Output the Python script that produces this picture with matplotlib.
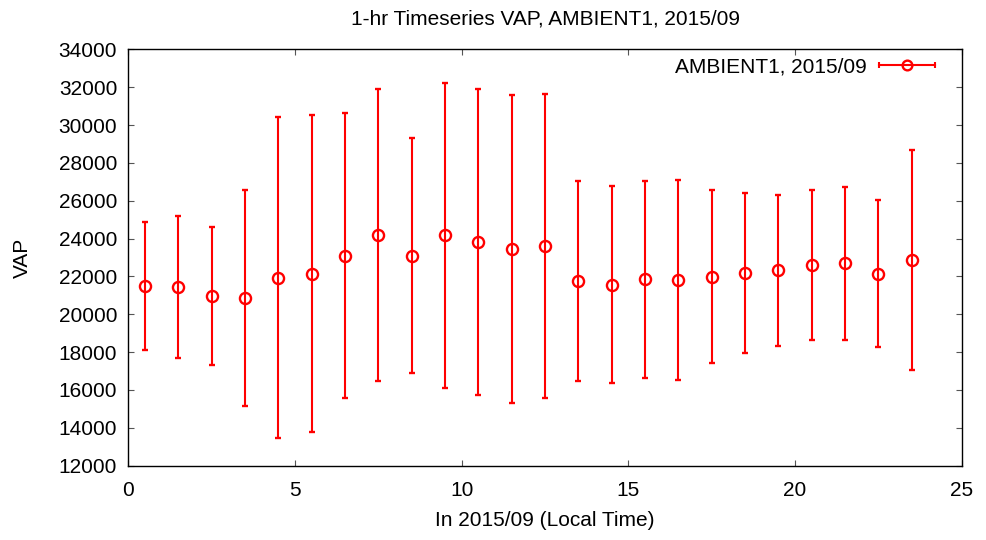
import matplotlib
matplotlib.use("Agg")
import matplotlib.pyplot as plt
from matplotlib.lines import Line2D
from matplotlib.legend_handler import HandlerLine2D

plt.rcParams['font.family'] = ['Liberation Sans', 'DejaVu Sans']

# hourly means of VAP with their min / max whiskers
hours = [0.5, 1.5, 2.5, 3.5, 4.5, 5.5, 6.5, 7.5, 8.5, 9.5, 10.5, 11.5,
         12.5, 13.5, 14.5, 15.5, 16.5, 17.5, 18.5, 19.5, 20.5, 21.5, 22.5, 23.5]
vap_mean = [21490, 21440, 20950, 20860, 21930, 22130, 23100, 24190, 23100, 24170, 23800, 23430,
            23590, 21780, 21550, 21850, 21830, 21990, 22180, 22320, 22590, 22690, 22130, 22870]
vap_upper = [24860, 25190, 24610, 26550, 30410, 30510, 30620, 31900, 29300, 32240, 31900, 31600,
             31620, 27060, 26760, 27060, 27110, 26570, 26410, 26320, 26570, 26720, 26040, 28680]
vap_lower = [18110, 17710, 17300, 15170, 13440, 13780, 15590, 16490, 16880, 16100, 15720, 15290,
             15580, 16470, 16350, 16620, 16550, 17410, 17970, 18340, 18640, 18660, 18250, 17070]

err_low = [m - l for m, l in zip(vap_mean, vap_lower)]
err_up = [u - m for m, u in zip(vap_mean, vap_upper)]

fs = 15

fig = plt.figure(figsize=(9.86, 5.40), dpi=100)
ax = fig.add_axes([0.1301, 0.1376, 0.8453, 0.7711])

ax.errorbar(hours, vap_mean, yerr=[err_low, err_up], fmt='o', color='red',
            mfc='none', mec='red', ms=8, mew=1.7, elinewidth=1.5,
            capsize=2.2, capthick=1.5)

ax.set_xlim(0, 25)
ax.set_ylim(12000, 34000)
ax.set_xticks(range(0, 26, 5))
ax.set_yticks(range(12000, 34001, 2000))
ax.tick_params(direction='in', top=True, right=True, length=4, width=0.8,
               color='#555555', labelsize=fs)
ax.tick_params(axis='x', pad=11)
ax.tick_params(axis='y', pad=8)
for s in ax.spines.values():
    s.set_linewidth(1.0)

ax.set_title('1-hr Timeseries VAP, AMBIENT1, 2015/09', fontsize=fs, pad=18)
ax.set_xlabel('In 2015/09 (Local Time)', fontsize=fs, labelpad=8)
ax.set_ylabel('VAP', fontsize=fs, labelpad=19)

# gnuplot style legend sample: horizontal bar with caps and a circle in the middle
bar = Line2D([], [], color='red', lw=1.5, marker='|', ms=5, mew=1.5)
circ = Line2D([], [], color='red', ls='none', marker='o', mfc='none', ms=7, mew=1.7)
ax.legend([(bar, circ)], ['AMBIENT1, 2015/09'], loc='upper right', frameon=False,
          bbox_to_anchor=(0.9775, 1.0), markerfirst=False, fontsize=fs,
          handlelength=2.65, handletextpad=0.6, borderaxespad=0.25, borderpad=0.15,
          handler_map={bar: HandlerLine2D(numpoints=2, marker_pad=0),
                       circ: HandlerLine2D(numpoints=1)})

fig.savefig('out.png', dpi=100)
